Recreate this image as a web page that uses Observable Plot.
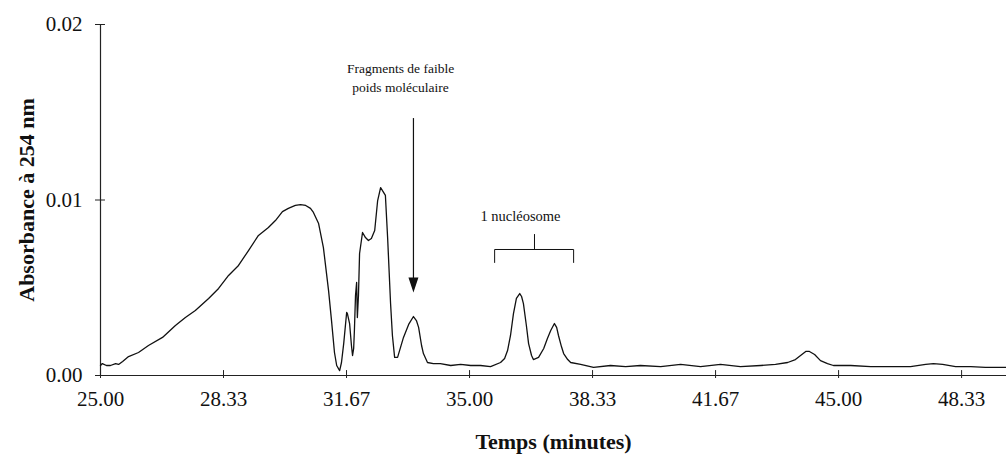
<!DOCTYPE html>
<html>
<head>
<meta charset="utf-8">
<script src="https://cdn.jsdelivr.net/npm/d3@7"></script>
<script src="https://cdn.jsdelivr.net/npm/@observablehq/plot@0.6"></script>
<style>
  html, body { margin: 0; padding: 0; background: #fff; }
  #chart svg { display: block; }
</style>
</head>
<body>
<div id="chart"></div>
<script>
// Retention time (minutes)
const time = [
  25.00, 25.05, 25.16, 25.27, 25.41, 25.49, 25.60, 25.76, 26.03, 26.30,
  26.68, 27.03, 27.30, 27.57, 27.93, 28.20, 28.47, 28.74, 29.01, 29.28,
  29.55, 29.74, 29.93, 30.09, 30.28, 30.42, 30.56, 30.69, 30.77, 30.91,
  31.04, 31.18, 31.26, 31.34, 31.40, 31.48, 31.53, 31.59, 31.67, 31.69,
  31.75, 31.80, 31.83, 31.86, 31.88, 31.91, 31.94, 31.96, 31.99, 32.02,
  32.10, 32.18, 32.26, 32.34, 32.43, 32.51, 32.59, 32.67, 32.72, 32.78,
  32.86, 32.91, 32.97, 33.05, 33.21, 33.35, 33.48, 33.56, 33.62, 33.70,
  33.75, 33.86, 34.02, 34.21, 34.49, 34.76, 35.03, 35.30, 35.57, 35.84,
  35.95, 36.03, 36.11, 36.19, 36.27, 36.36, 36.41, 36.46, 36.54, 36.60,
  36.68, 36.73, 36.87, 37.01, 37.11, 37.20, 37.30, 37.36, 37.41, 37.49,
  37.55, 37.66, 37.74, 38.01, 38.36, 38.82, 39.23, 39.63, 40.18, 40.72,
  41.26, 41.80, 42.34, 42.89, 43.29, 43.62, 43.83, 43.97, 44.11, 44.21,
  44.35, 44.51, 44.70, 44.86, 45.33, 45.87, 46.41, 46.95, 47.36, 47.57,
  47.82, 48.17, 48.58, 48.98, 49.39, 49.55
];
// Absorbance at 254 nm
const absorbance = [
  0.00057, 0.00068, 0.00057, 0.00057, 0.00068, 0.00063, 0.00080, 0.00108, 0.00131, 0.00171,
  0.00217, 0.00285, 0.00330, 0.00370, 0.00439, 0.00496, 0.00570, 0.00627, 0.00712, 0.00798,
  0.00843, 0.00883, 0.00934, 0.00952, 0.00969, 0.00974, 0.00969, 0.00952, 0.00929, 0.00866,
  0.00729, 0.00484, 0.00313, 0.00131, 0.00057, 0.00028, 0.00074, 0.00182, 0.00359, 0.00353,
  0.00296, 0.00171, 0.00114, 0.00154, 0.00256, 0.00456, 0.00530, 0.00330, 0.00456, 0.00695,
  0.00815, 0.00786, 0.00769, 0.00781, 0.00826, 0.00997, 0.01071, 0.01043, 0.01026, 0.00786,
  0.00410, 0.00228, 0.00103, 0.00103, 0.00217, 0.00291, 0.00336, 0.00313, 0.00274, 0.00171,
  0.00125, 0.00074, 0.00068, 0.00068, 0.00057, 0.00063, 0.00057, 0.00057, 0.00051, 0.00074,
  0.00097, 0.00142, 0.00228, 0.00353, 0.00439, 0.00467, 0.00450, 0.00410, 0.00285, 0.00182,
  0.00114, 0.00091, 0.00103, 0.00154, 0.00211, 0.00256, 0.00296, 0.00274, 0.00228, 0.00165,
  0.00125, 0.00091, 0.00074, 0.00063, 0.00046, 0.00057, 0.00051, 0.00057, 0.00051, 0.00063,
  0.00051, 0.00063, 0.00051, 0.00057, 0.00063, 0.00074, 0.00091, 0.00114, 0.00137, 0.00137,
  0.00120, 0.00085, 0.00068, 0.00057, 0.00057, 0.00051, 0.00051, 0.00051, 0.00063, 0.00068,
  0.00063, 0.00051, 0.00051, 0.00046, 0.00046, 0.00046
];

const xTickValues = [25, 28.3333, 31.6667, 35, 38.3333, 41.6667, 45, 48.3333];
const xTickLabels = ["25.00", "28.33", "31.67", "35.00", "38.33", "41.67", "45.00", "48.33"];
const yTickValues = [0, 0.01, 0.02];
const yTickLabels = ["0.00", "0.01", "0.02"];

const xTitle = "Temps (minutes)";
const yTitle = "Absorbance à 254 nm";

// Annotations (data coordinates)
const fragText = ["Fragments de faible", "poids moléculaire"];
const fragTextX = [33.13, 33.13];
const fragTextY = [0.01726, 0.01613];
const arrowX = 33.48;
const arrowTop = 0.01464;
const arrowShaftEnd = 0.0054;
const arrowHeadY = 0.00516;

const nucText = "1 nucléosome";
const nucTextX = 36.38;
const nucTextY = 0.00883;
const bracketX = [35.68, 35.68, 37.82, 37.82];
const bracketY = [0.00644, 0.00718, 0.00718, 0.00644];
const bracketTickX = 36.76;
const bracketTickY1 = 0.00718;
const bracketTickY2 = 0.00803;

const curve = time.map((t, i) => ({t, a: absorbance[i]}));
const frag = fragText.map((s, i) => ({s, x: fragTextX[i], y: fragTextY[i]}));
const bracket = bracketX.map((x, i) => ({x, y: bracketY[i]}));

const downTriangle = {
  draw(context) {
    context.moveTo(-5, -7.5);
    context.lineTo(5, -7.5);
    context.lineTo(0, 7.5);
    context.closePath();
  }
};

const font = "Liberation Serif, Times New Roman, serif";

const chart = Plot.plot({
  width: 1006,
  height: 454,
  marginLeft: 100,
  marginRight: 0,
  marginTop: 24,
  marginBottom: 79,
  style: {fontFamily: font, background: "#fff", color: "#111"},
  x: {domain: [25, 49.55]},
  y: {domain: [0, 0.02]},
  marks: [
    Plot.axisX({
      ticks: xTickValues,
      tickFormat: d => xTickLabels[xTickValues.indexOf(d)],
      tickSize: 3,
      tickPadding: 13,
      fontSize: 21,
      label: null,
      stroke: "#222"
    }),
    Plot.axisY({
      ticks: yTickValues,
      tickFormat: d => yTickLabels[yTickValues.indexOf(d)],
      tickSize: 5,
      tickPadding: 13,
      fontSize: 21,
      label: null,
      stroke: "#222"
    }),
    Plot.ruleY(yTickValues, {x1: 25, x2: 25.135, stroke: "#222"}),
    Plot.ruleX(xTickValues, {y1: 0, y2: 0.00028, stroke: "#222"}),
    Plot.ruleY([0], {stroke: "#222", strokeWidth: 1.2}),
    Plot.ruleX([25], {stroke: "#222", strokeWidth: 1.2}),
    Plot.line(curve, {x: "t", y: "a", stroke: "#111", strokeWidth: 1.3, curve: "linear"}),
    // annotation: low molecular weight fragments
    Plot.text(frag, {x: "x", y: "y", text: "s", fontSize: 13.5, textAnchor: "middle", lineAnchor: "bottom", fill: "#111"}),
    Plot.ruleX([arrowX], {y1: arrowTop, y2: arrowShaftEnd, stroke: "#111", strokeWidth: 1.2}),
    Plot.dot([arrowX], {x: d => d, y: () => arrowHeadY, symbol: downTriangle, fill: "#111", stroke: "none"}),
    // annotation: 1 nucleosome
    Plot.text([nucText], {x: () => nucTextX, y: () => nucTextY, text: d => d, fontSize: 14.5, textAnchor: "middle", lineAnchor: "bottom", fill: "#111"}),
    Plot.line(bracket, {x: "x", y: "y", stroke: "#111", strokeWidth: 1}),
    Plot.ruleX([bracketTickX], {y1: bracketTickY1, y2: bracketTickY2, stroke: "#111", strokeWidth: 1}),
    // axis titles
    Plot.text([xTitle], {frameAnchor: "bottom", dy: 66, text: d => d, fontSize: 22, fontWeight: "bold", textAnchor: "middle", lineAnchor: "middle", fill: "#111"}),
    Plot.text([yTitle], {frameAnchor: "left", dx: -74, rotate: -90, text: d => d, fontSize: 22, fontWeight: "bold", textAnchor: "middle", lineAnchor: "middle", fill: "#111"})
  ]
});
document.getElementById("chart").appendChild(chart);
</script>
</body>
</html>
